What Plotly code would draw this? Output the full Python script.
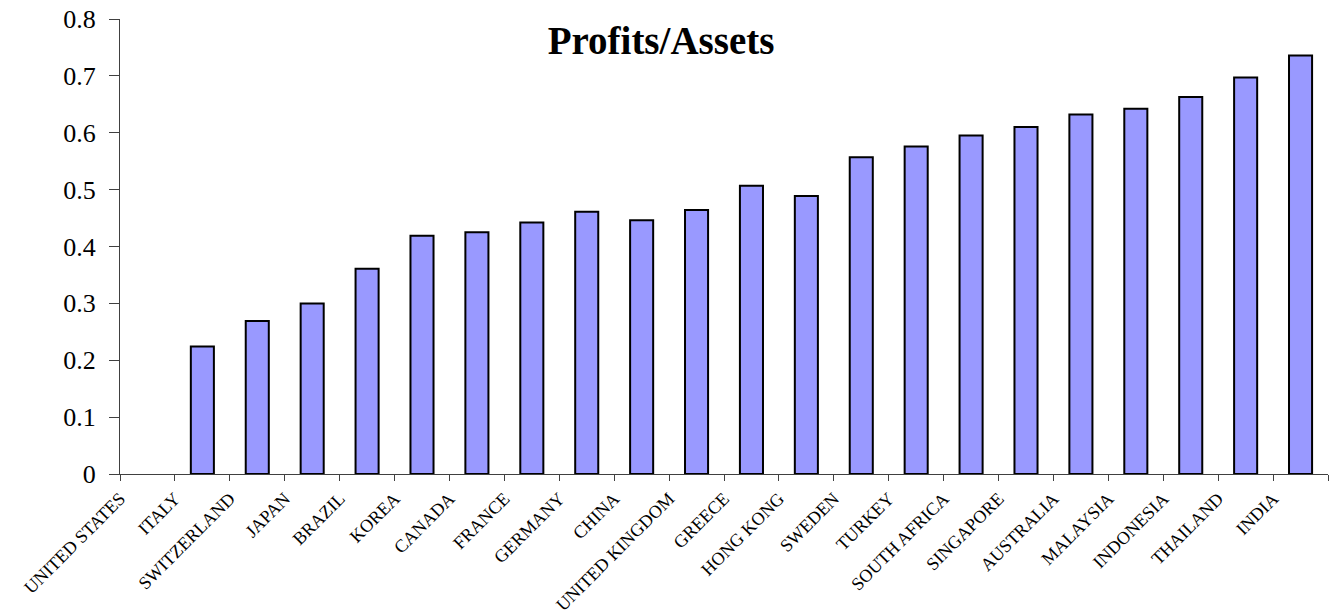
import plotly.graph_objects as go

countries = ["UNITED STATES", "ITALY", "SWITZERLAND", "JAPAN", "BRAZIL", "KOREA",
             "CANADA", "FRANCE", "GERMANY", "CHINA", "UNITED KINGDOM", "GREECE",
             "HONG KONG", "SWEDEN", "TURKEY", "SOUTH AFRICA", "SINGAPORE",
             "AUSTRALIA", "MALAYSIA", "INDONESIA", "THAILAND", "INDIA"]
profits_assets = [None, 0.224, 0.269, 0.300, 0.361, 0.419,
                  0.425, 0.442, 0.461, 0.446, 0.464, 0.507,
                  0.489, 0.557, 0.576, 0.595, 0.610,
                  0.632, 0.642, 0.663, 0.697, 0.736]
y_ticks = [0, 0.1, 0.2, 0.3, 0.4, 0.5, 0.6, 0.7, 0.8]
y_tick_text = ["0", "0.1", "0.2", "0.3", "0.4", "0.5", "0.6", "0.7", "0.8"]

n = len(countries)
bar_pos = [i + 0.5 for i in range(n)]
label_pos = list(range(n))

fig = go.Figure()
fig.add_trace(go.Bar(
    x=bar_pos, y=profits_assets, width=0.42,
    marker=dict(color="#9999FF", line=dict(color="black", width=2)),
    showlegend=False, hoverinfo="y",
))

fig.update_xaxes(
    range=[0, n], tickmode="array", tickvals=label_pos, ticktext=countries,
    tickangle=-45, ticks="outside", ticklen=6, tickcolor="#404040",
    showline=True, linecolor="#404040", linewidth=1, showgrid=False, zeroline=False,
    tickfont=dict(family="Liberation Serif", size=18, color="black"),
    minor=dict(tickmode="array", tickvals=[n], ticks="outside", ticklen=6, tickcolor="#404040"),
    automargin=False,
)
fig.update_yaxes(
    range=[0, 0.8], tickmode="array", tickvals=y_ticks, ticktext=y_tick_text,
    ticks="outside", ticklen=10, tickcolor="#404040",
    showline=True, linecolor="#404040", linewidth=1, showgrid=False, zeroline=False,
    tickfont=dict(family="Liberation Serif", size=26, color="black"),
    ticklabelstandoff=8, automargin=False,
)

fig.update_layout(
    width=1330, height=615,
    margin=dict(l=120, r=2, t=19, b=141),
    plot_bgcolor="white", paper_bgcolor="white",
    title=dict(text="<b>Profits/Assets</b>", x=661 / 1330, xanchor="center",
               y=1 - 40 / 615, yanchor="middle",
               font=dict(family="Liberation Serif", size=39, color="black")),
)

fig.write_html("out.html", config={"displayModeBar": False},
               post_script="document.body.style.margin='0';")
